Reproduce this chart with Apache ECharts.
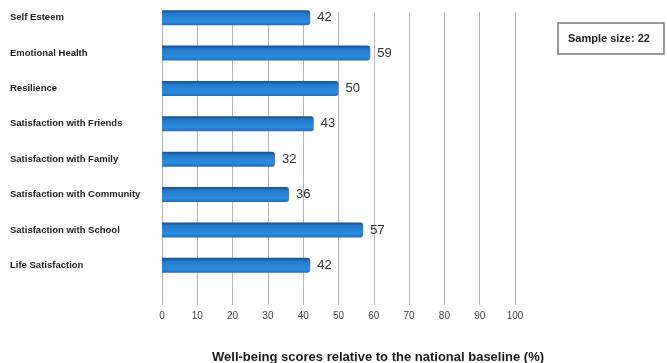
<!DOCTYPE html>
<html>
<head>
<meta charset="utf-8">
<script src="https://cdn.jsdelivr.net/npm/echarts@6/dist/echarts.min.js"></script>
<style>html,body{margin:0;padding:0;background:#fff}#c{width:667px;height:363px}</style>
</head>
<body>
<div id="c"></div>
<script>
var categories = ["Self Esteem","Emotional Health","Resilience","Satisfaction with Friends","Satisfaction with Family","Satisfaction with Community","Satisfaction with School","Life Satisfaction"];
var values = [42,59,50,43,32,36,57,42];
var xTicks = [0,10,20,30,40,50,60,70,80,90,100];
var axisTitle = "Well-being scores relative to the national baseline (%)";
var sampleText = "Sample size: 22";

var chart = echarts.init(document.getElementById('c'));
var barColor = new echarts.graphic.LinearGradient(0,0,0,1,[
  {offset:0,color:'#1a4c8a'},
  {offset:0.22,color:'#2379c8'},
  {offset:0.75,color:'#2d8ce0'},
  {offset:1,color:'#1f6cb8'}
]);
chart.setOption({
  animation:false,
  grid:[
    {left:162,width:353,top:12,height:293},
    {left:162,width:353,top:0,height:283}
  ],
  xAxis:[
    {gridIndex:0,type:'value',min:0,max:100,interval:10,
     axisLine:{show:false},axisTick:{show:false},
     splitLine:{show:true,lineStyle:{color:'#b4b4b4',width:1}},
     axisLabel:{margin:6,fontSize:10,color:'#444',fontFamily:'Liberation Sans',
       formatter:function(v){return xTicks.indexOf(v)>=0?String(v):'';}}},
    {gridIndex:1,type:'value',min:0,max:100,show:false}
  ],
  yAxis:[
    {gridIndex:0,type:'value',show:false},
    {gridIndex:1,type:'category',data:categories,inverse:true,
     axisLine:{show:false},axisTick:{show:false},splitLine:{show:false},
     axisLabel:{align:'left',margin:152,fontSize:9.5,fontWeight:'bold',color:'#222',fontFamily:'Liberation Sans'}}
  ],
  series:[{
    type:'bar',xAxisIndex:1,yAxisIndex:1,data:values,barWidth:15,
    itemStyle:{color:barColor,borderRadius:[0,3,3,0]},
    label:{show:true,position:'right',distance:7,fontSize:13,color:'#333',fontFamily:'Liberation Sans'}
  }],
  title:{text:axisTitle,left:207,top:346,textStyle:{fontSize:13,fontWeight:'bold',color:'#1a1a1a',fontFamily:'Liberation Sans'}},
  graphic:[
    {type:'rect',shape:{x:558,y:23,width:106,height:31},style:{fill:'#fff',stroke:'#777',lineWidth:1.5}},
    {type:'text',x:568,y:38.5,style:{text:sampleText,font:'bold 11px "Liberation Sans"',fill:'#222',textVerticalAlign:'middle'}}
  ]
});
</script>
</body>
</html>
